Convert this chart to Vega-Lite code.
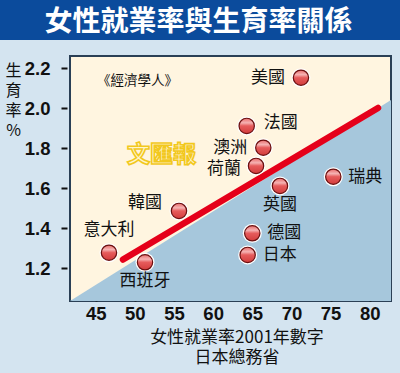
{
  "$schema": "https://vega.github.io/schema/vega-lite/v6.json",
  "width": 321,
  "height": 245,
  "autosize": {"type": "none"},
  "padding": {"left": 70, "top": 56, "right": 9, "bottom": 72},
  "background": "#d4e4f0",
  "title": {
    "text": "女性就業率與生育率關係",
    "font": "Noto Sans CJK TC",
    "fontSize": 28,
    "fontWeight": "bold",
    "color": "#ffffff",
    "anchor": "middle",
    "frame": "group",
    "dx": -32,
    "dy": 51,
    "baseline": "middle",
    "offset": 0
  },
  "config": {
    "view": {"fill": "#fff5e0", "stroke": "#2a3f55", "strokeWidth": 2},
    "axisX": {
      "titleX": 166.5,
      "titleY": 28,
      "titleAlign": "center",
      "titleBaseline": "top",
      "titleFont": "Noto Sans CJK TC",
      "titleFontSize": 17,
      "titleFontWeight": "normal",
      "titleLineHeight": 20.5,
      "titleColor": "#111111",
      "labelFont": "Liberation Sans",
      "labelFontWeight": "bold",
      "labelFontSize": 18.5,
      "labelColor": "#111111",
      "labelPadding": 10,
      "tickColor": "#111111",
      "tickWidth": 2,
      "tickSize": -7,
      "domain": false,
      "grid": false
    },
    "axisY": {
      "titleAngle": 0,
      "titleAlign": "center",
      "titleBaseline": "top",
      "titleX": -54,
      "titleY": 6,
      "titleFont": "Noto Sans CJK TC",
      "titleFontSize": 16,
      "titleFontWeight": "normal",
      "titleLineHeight": 20,
      "titleColor": "#111111",
      "labelFont": "Liberation Sans",
      "labelFontWeight": "bold",
      "labelFontSize": 18.5,
      "labelColor": "#111111",
      "labelPadding": 11,
      "tickColor": "#111111",
      "tickWidth": 2,
      "tickSize": 6,
      "offset": 3,
      "domain": false,
      "grid": false
    }
  },
  "datasets": {
    "countries": [
      {"country": "美國", "x": 71.22, "y": 2.153},
      {"country": "法國", "x": 64.29, "y": 1.912},
      {"country": "澳洲", "x": 66.41, "y": 1.803},
      {"country": "荷蘭", "x": 65.48, "y": 1.712},
      {"country": "瑞典", "x": 75.35, "y": 1.658},
      {"country": "英國", "x": 68.54, "y": 1.612},
      {"country": "韓國", "x": 55.64, "y": 1.487},
      {"country": "意大利", "x": 46.70, "y": 1.278},
      {"country": "西班牙", "x": 51.30, "y": 1.230},
      {"country": "德國", "x": 65.00, "y": 1.375},
      {"country": "日本", "x": 64.41, "y": 1.267}
    ],
    "redline": [
      {"x": 48.49, "y": 1.244},
      {"x": 81.06, "y": 2.0015}
    ],
    "boundary": [
      {"x": 41.72, "y": 1.0365},
      {"x": 82.72, "y": 2.0415}
    ]
  },
  "layer": [
    {
      "data": {"values": [{}]},
      "mark": {"type": "rect", "color": "#0b4b9c", "clip": false},
      "encoding": {
        "x": {"value": -70},
        "x2": {"value": 330},
        "y": {"value": -56},
        "y2": {"value": -16}
      }
    },
    {
      "data": {"name": "boundary"},
      "mark": {"type": "area", "color": "#a6c7dc", "opacity": 1},
      "encoding": {
        "x": {"field": "x", "type": "quantitative", "scale": {"domain": [41.72, 82.72], "nice": false, "zero": false}, "axis": {"values": [45, 50, 55, 60, 65, 70, 75, 80], "title": ["女性就業率2001年數字", "日本總務省"]}},
        "y": {"field": "y", "type": "quantitative", "scale": {"domain": [1.0365, 2.2615], "nice": false, "zero": false}, "axis": {"values": [1.2, 1.4, 1.6, 1.8, 2.0, 2.2], "format": ".1f", "title": ["生", "育", "率", "%"]}},
        "y2": {"datum": 1.0365}
      }
    },
    {
      "data": {"name": "redline"},
      "mark": {"type": "line", "color": "#e5001a", "strokeWidth": 6.5, "strokeCap": "round"},
      "encoding": {
        "x": {"field": "x", "type": "quantitative", "scale": {"domain": [41.72, 82.72], "nice": false, "zero": false}, "axis": {"values": [45, 50, 55, 60, 65, 70, 75, 80], "title": ["女性就業率2001年數字", "日本總務省"]}},
        "y": {"field": "y", "type": "quantitative", "scale": {"domain": [1.0365, 2.2615], "nice": false, "zero": false}, "axis": {"values": [1.2, 1.4, 1.6, 1.8, 2.0, 2.2], "format": ".1f", "title": ["生", "育", "率", "%"]}}
      }
    },
    {
      "data": {"name": "countries"},
      "encoding": {
        "x": {"field": "x", "type": "quantitative", "scale": {"domain": [41.72, 82.72], "nice": false, "zero": false}, "axis": {"values": [45, 50, 55, 60, 65, 70, 75, 80], "title": ["女性就業率2001年數字", "日本總務省"]}},
        "y": {"field": "y", "type": "quantitative", "scale": {"domain": [1.0365, 2.2615], "nice": false, "zero": false}, "axis": {"values": [1.2, 1.4, 1.6, 1.8, 2.0, 2.2], "format": ".1f", "title": ["生", "育", "率", "%"]}}
      },
      "layer": [
        {
          "mark": {"type": "circle", "size": 360, "color": "#ffffff", "opacity": 1}
        },
        {
          "mark": {
            "type": "circle",
            "size": 235,
            "opacity": 1,
            "stroke": "#6b1010",
            "strokeWidth": 1.2,
            "fill": {
              "gradient": "linear",
              "x1": 0, "y1": 0, "x2": 0, "y2": 1,
              "stops": [
                {"offset": 0, "color": "#e86a6a"},
                {"offset": 0.3, "color": "#f5b3b3"},
                {"offset": 0.5, "color": "#e65c5c"},
                {"offset": 1, "color": "#d23c3c"}
              ]
            }
          }
        },
        {
          "transform": [{"filter": {"field": "country", "oneOf": ["美國", "澳洲"]}}],
          "mark": {"type": "text", "align": "right", "baseline": "middle", "dx": -16, "font": "Noto Sans CJK TC", "fontSize": 17, "color": "#111111"},
          "encoding": {"text": {"field": "country"}}
        },
        {
          "transform": [{"filter": {"field": "country", "oneOf": ["荷蘭"]}}],
          "mark": {"type": "text", "align": "right", "baseline": "middle", "dx": -15, "dy": 3, "font": "Noto Sans CJK TC", "fontSize": 17, "color": "#111111"},
          "encoding": {"text": {"field": "country"}}
        },
        {
          "transform": [{"filter": {"field": "country", "oneOf": ["法國"]}}],
          "mark": {"type": "text", "align": "left", "baseline": "middle", "dx": 17, "dy": -3, "font": "Noto Sans CJK TC", "fontSize": 17, "color": "#111111"},
          "encoding": {"text": {"field": "country"}}
        },
        {
          "transform": [{"filter": {"field": "country", "oneOf": ["瑞典", "德國", "日本"]}}],
          "mark": {"type": "text", "align": "left", "baseline": "middle", "dx": 15, "font": "Noto Sans CJK TC", "fontSize": 17, "color": "#111111"},
          "encoding": {"text": {"field": "country"}}
        },
        {
          "transform": [{"filter": {"field": "country", "oneOf": ["韓國"]}}],
          "mark": {"type": "text", "align": "right", "baseline": "middle", "dx": -17, "dy": -8, "font": "Noto Sans CJK TC", "fontSize": 17, "color": "#111111"},
          "encoding": {"text": {"field": "country"}}
        },
        {
          "transform": [{"filter": {"field": "country", "oneOf": ["意大利"]}}],
          "mark": {"type": "text", "align": "center", "baseline": "middle", "dy": -23, "font": "Noto Sans CJK TC", "fontSize": 17, "color": "#111111"},
          "encoding": {"text": {"field": "country"}}
        },
        {
          "transform": [{"filter": {"field": "country", "oneOf": ["英國", "西班牙"]}}],
          "mark": {"type": "text", "align": "center", "baseline": "middle", "dy": 19, "font": "Noto Sans CJK TC", "fontSize": 17, "color": "#111111"},
          "encoding": {"text": {"field": "country"}}
        }
      ]
    },
    {
      "data": {"values": [{"t": "《經濟學人》"}]},
      "mark": {"type": "text", "align": "center", "baseline": "middle", "font": "Noto Sans CJK TC", "fontSize": 13.5, "color": "#111111"},
      "encoding": {
        "x": {"datum": 50.34, "type": "quantitative", "scale": {"domain": [41.72, 82.72], "nice": false, "zero": false}, "axis": {"values": [45, 50, 55, 60, 65, 70, 75, 80], "title": ["女性就業率2001年數字", "日本總務省"]}},
        "y": {"datum": 2.138, "type": "quantitative", "scale": {"domain": [1.0365, 2.2615], "nice": false, "zero": false}, "axis": {"values": [1.2, 1.4, 1.6, 1.8, 2.0, 2.2], "format": ".1f", "title": ["生", "育", "率", "%"]}},
        "text": {"field": "t"}
      }
    },
    {
      "data": {"values": [{"t": "文匯報"}]},
      "mark": {"type": "text", "align": "center", "baseline": "middle", "font": "Noto Sans CJK TC", "fontSize": 23, "fontWeight": "bold", "letterSpacing": 7, "fill": "#fff6cc", "stroke": "#f2c81e", "strokeWidth": 1.6},
      "encoding": {
        "x": {"datum": 53.4, "type": "quantitative", "scale": {"domain": [41.72, 82.72], "nice": false, "zero": false}, "axis": {"values": [45, 50, 55, 60, 65, 70, 75, 80], "title": ["女性就業率2001年數字", "日本總務省"]}},
        "y": {"datum": 1.766, "type": "quantitative", "scale": {"domain": [1.0365, 2.2615], "nice": false, "zero": false}, "axis": {"values": [1.2, 1.4, 1.6, 1.8, 2.0, 2.2], "format": ".1f", "title": ["生", "育", "率", "%"]}},
        "text": {"field": "t"}
      }
    }
  ]
}
